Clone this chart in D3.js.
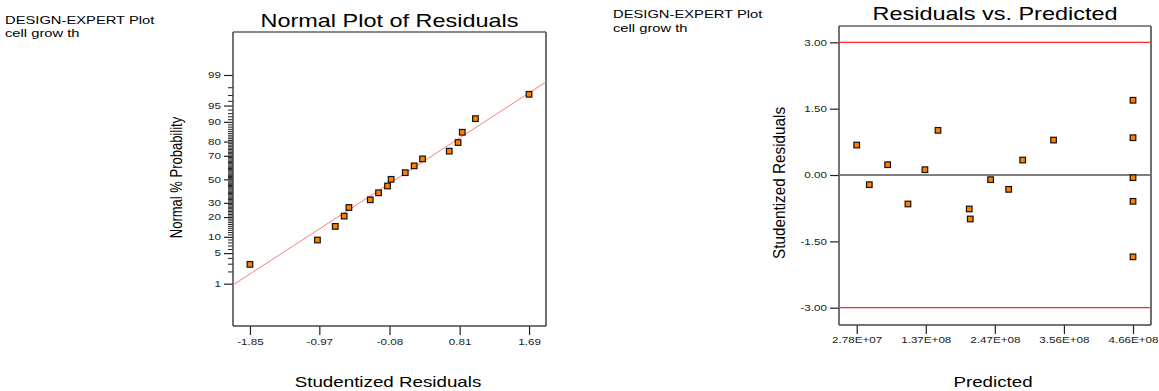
<!DOCTYPE html>
<html>
<head>
<meta charset="utf-8">
<script src="https://cdn.jsdelivr.net/npm/d3@7"></script>
<style>
  html, body { margin: 0; padding: 0; background: #fff; }
  svg { display: block; font-family: "Liberation Sans", Arial, sans-serif; }
</style>
</head>
<body>
<svg id="chart" width="1159" height="391"></svg>
<script>
// Predicted cell growth for each run and its studentized residual
const predicted = [
  2.78e7, 4.78e7, 7.69e7, 1.091e8, 1.36e8, 1.567e8, 2.063e8, 2.079e8, 2.402e8,
  2.688e8, 2.91e8, 3.40e8, 4.66e8, 4.66e8, 4.66e8, 4.66e8, 4.66e8
];
const residuals = [
  0.678, -0.219, 0.233, -0.655, 0.12, 1.01, -0.768, -0.994, -0.105,
  -0.324, 0.339, 0.79, 1.69, 0.843, -0.06, -0.595, -1.85
];
// Normal % probability of each ordered residual
const normalPct = [
  2.9, 8.8, 14.7, 20.6, 26.5, 32.4, 38.2, 44.1, 50.0,
  55.9, 61.8, 67.6, 73.5, 79.4, 85.3, 91.2, 97.1
];
// Reference line of the normal plot (mean, spread)
const fitMean = 0;
const fitSd = 0.877;

// Axis ticks
const residTicksX = [-1.85, -0.97, -0.08, 0.81, 1.69];
const probMajor = [1, 5, 10, 20, 30, 50, 70, 80, 90, 95, 99];
const probMinor = d3.range(1, 100).filter(p => !probMajor.includes(p));
const predTicks = [2.78e7, 1.3735e8, 2.469e8, 3.5645e8, 4.66e8];
const predTickLabels = ["2.78E+07", "1.37E+08", "2.47E+08", "3.56E+08", "4.66E+08"];
const residTicksY = [-3, -1.5, 0, 1.5, 3];
const limitLines = [-3, 3];

const SX = 1.34;           // horizontal text stretch
const FONT_TICK = 8.7;

// Inverse standard normal CDF (Acklam)
function probit(p) {
  const a = [-3.969683028665376e+01, 2.209460984245205e+02, -2.759285104469687e+02,
             1.383577518672690e+02, -3.066479806614716e+01, 2.506628277459239e+00];
  const b = [-5.447609879822406e+01, 1.615858368580409e+02, -1.556989798598866e+02,
             6.680131188771972e+01, -1.328068155288572e+01];
  const c = [-7.784894002430293e-03, -3.223964580411365e-01, -2.400758277161838e+00,
             -2.549732539343734e+00, 4.374664141464968e+00, 2.938163982698783e+00];
  const d = [7.784695709041462e-03, 3.224671290700398e-01, 2.445134137142996e+00,
             3.754408661907416e+00];
  const pl = 0.02425, ph = 1 - pl;
  let q, r;
  if (p < pl) {
    q = Math.sqrt(-2 * Math.log(p));
    return (((((c[0]*q+c[1])*q+c[2])*q+c[3])*q+c[4])*q+c[5]) / ((((d[0]*q+d[1])*q+d[2])*q+d[3])*q+1);
  } else if (p <= ph) {
    q = p - 0.5; r = q * q;
    return (((((a[0]*r+a[1])*r+a[2])*r+a[3])*r+a[4])*r+a[5])*q / (((((b[0]*r+b[1])*r+b[2])*r+b[3])*r+b[4])*r+1);
  } else {
    q = Math.sqrt(-2 * Math.log(1 - p));
    return -(((((c[0]*q+c[1])*q+c[2])*q+c[3])*q+c[4])*q+c[5]) / ((((d[0]*q+d[1])*q+d[2])*q+d[3])*q+1);
  }
}

const svg = d3.select("#chart");

function label(g, x, y, str, size, anchor, sx = SX, rotate = 0, fill = "#000") {
  return g.append("text")
    .attr("transform", `translate(${x},${y}) scale(${sx},1)` + (rotate ? ` rotate(${rotate})` : ""))
    .attr("text-anchor", anchor)
    .attr("font-size", size)
    .attr("fill", fill)
    .text(str);
}

function styleAxis(g) {
  g.select(".domain").remove();
  g.selectAll(".tick line").attr("stroke", "#222").attr("stroke-width", 1.2);
  g.selectAll(".tick text").each(function () {
    const t = d3.select(this);
    const x = +t.attr("x") || 0;
    t.attr("x", x / SX)
     .attr("transform", `scale(${SX},1)`)
     .attr("font-size", FONT_TICK)
     .attr("font-family", "Liberation Sans, Arial, sans-serif")
     .attr("fill", "#222");
  });
}

function frame(g, x0, x1, y0, y1) {
  g.append("line").attr("x1", x0).attr("x2", x1).attr("y1", y0).attr("y2", y0)
    .attr("stroke", "#8a8a8a").attr("stroke-width", 2);
  g.append("line").attr("x1", x1).attr("x2", x1).attr("y1", y0).attr("y2", y1)
    .attr("stroke", "#707070").attr("stroke-width", 2);
  g.append("line").attr("x1", x0).attr("x2", x0).attr("y1", y0).attr("y2", y1)
    .attr("stroke", "#444").attr("stroke-width", 1.5);
  g.append("line").attr("x1", x0).attr("x2", x1).attr("y1", y1).attr("y2", y1)
    .attr("stroke", "#444").attr("stroke-width", 1.5);
}

function markers(g, pts) {
  g.selectAll("rect.pt").data(pts).join("rect")
    .attr("class", "pt")
    .attr("x", d => d[0] - 2.8)
    .attr("y", d => d[1] - 2.8)
    .attr("width", 5.6).attr("height", 5.6)
    .attr("fill", "#ff8000")
    .attr("stroke", "#111")
    .attr("stroke-width", 1.2);
}

/* ---------- Normal plot of residuals ---------- */
{
  const g = svg.append("g");
  const L = 233, R = 546, T = 32, B = 326;
  const x = d3.scaleLinear().domain([-2.065, 1.905]).range([L, R]);
  const z = d3.scaleLinear().domain([-3.27, 3.285]).range([B, T]);

  label(g, 5, 24, "DESIGN-EXPERT Plot", 11, "start");
  label(g, 5, 36.7, "cell grow th", 11, "start");
  label(g, (L + R) / 2, 27.3, "Normal Plot of Residuals", 17.5, "middle");

  // minor probability ticks
  const minorAxis = g.append("g").attr("transform", `translate(${L},0)`)
    .call(d3.axisLeft(z).tickValues(probMinor.map(p => probit(p / 100))).tickSize(5).tickFormat(""));
  minorAxis.select(".domain").remove();
  minorAxis.selectAll(".tick line").attr("stroke", "#222").attr("stroke-width", 1);

  const yAxis = g.append("g").attr("transform", `translate(${L},0)`)
    .call(d3.axisLeft(z).tickValues(probMajor.map(p => probit(p / 100)))
      .tickFormat((d, i) => String(probMajor[i])).tickSize(9).tickPadding(3));
  styleAxis(yAxis);

  const xAxis = g.append("g").attr("transform", `translate(0,${B})`)
    .call(d3.axisBottom(x).tickValues(residTicksX).tickFormat(d => d.toFixed(2))
      .tickSize(9).tickPadding(4));
  styleAxis(xAxis);

  frame(g, L, R, T, B);

  // reference line
  const xd = x.domain();
  g.append("line")
    .attr("x1", x(xd[0])).attr("y1", z((xd[0] - fitMean) / fitSd))
    .attr("x2", x(xd[1])).attr("y2", z((xd[1] - fitMean) / fitSd))
    .attr("stroke", "#ff7a7a").attr("stroke-width", 1);

  const sorted = d3.sort(residuals);
  markers(g, sorted.map((r, i) => [x(r), z(probit(normalPct[i] / 100))]));

  label(g, 181.5, (T + B) / 2 - 1.5, "Normal % Probability", 13, "middle", 1.25, -90);
  label(g, 388, 387, "Studentized Residuals", 14, "middle");
}

/* ---------- Residuals vs. predicted ---------- */
{
  const g = svg.append("g");
  const L = 839, R = 1151, T = 26, B = 325;
  const x = d3.scaleLinear().domain([-2.7e5, 4.9455e8]).range([L, R]);
  const y = d3.scaleLinear().domain([-3.391, 3.369]).range([B, T]);

  label(g, 613, 18, "DESIGN-EXPERT Plot", 11, "start");
  label(g, 613, 32, "cell grow th", 11, "start");
  label(g, (L + R) / 2, 20, "Residuals vs. Predicted", 17.5, "middle");

  const yAxis = g.append("g").attr("transform", `translate(${L},0)`)
    .call(d3.axisLeft(y).tickValues(residTicksY).tickFormat(d => d.toFixed(2))
      .tickSize(9).tickPadding(3));
  styleAxis(yAxis);

  const xAxis = g.append("g").attr("transform", `translate(0,${B})`)
    .call(d3.axisBottom(x).tickValues(predTicks).tickFormat((d, i) => predTickLabels[i])
      .tickSize(9).tickPadding(3));
  styleAxis(xAxis);

  frame(g, L, R, T, B);

  g.selectAll("line.limit").data(limitLines).join("line")
    .attr("class", "limit")
    .attr("x1", L + 1).attr("x2", R - 1)
    .attr("y1", d => y(d)).attr("y2", d => y(d))
    .attr("stroke", "#ff2a2a").attr("stroke-width", 1.2);
  g.append("line")
    .attr("x1", L + 1).attr("x2", R - 1)
    .attr("y1", y(0)).attr("y2", y(0))
    .attr("stroke", "#000").attr("stroke-width", 1.2);

  markers(g, predicted.map((p, i) => [x(p), y(residuals[i])]));

  label(g, 785, 183, "Studentized Residuals", 15.3, "middle", 1.12, -90);
  label(g, 993, 386.7, "Predicted", 14, "middle");
}
</script>
</body>
</html>
